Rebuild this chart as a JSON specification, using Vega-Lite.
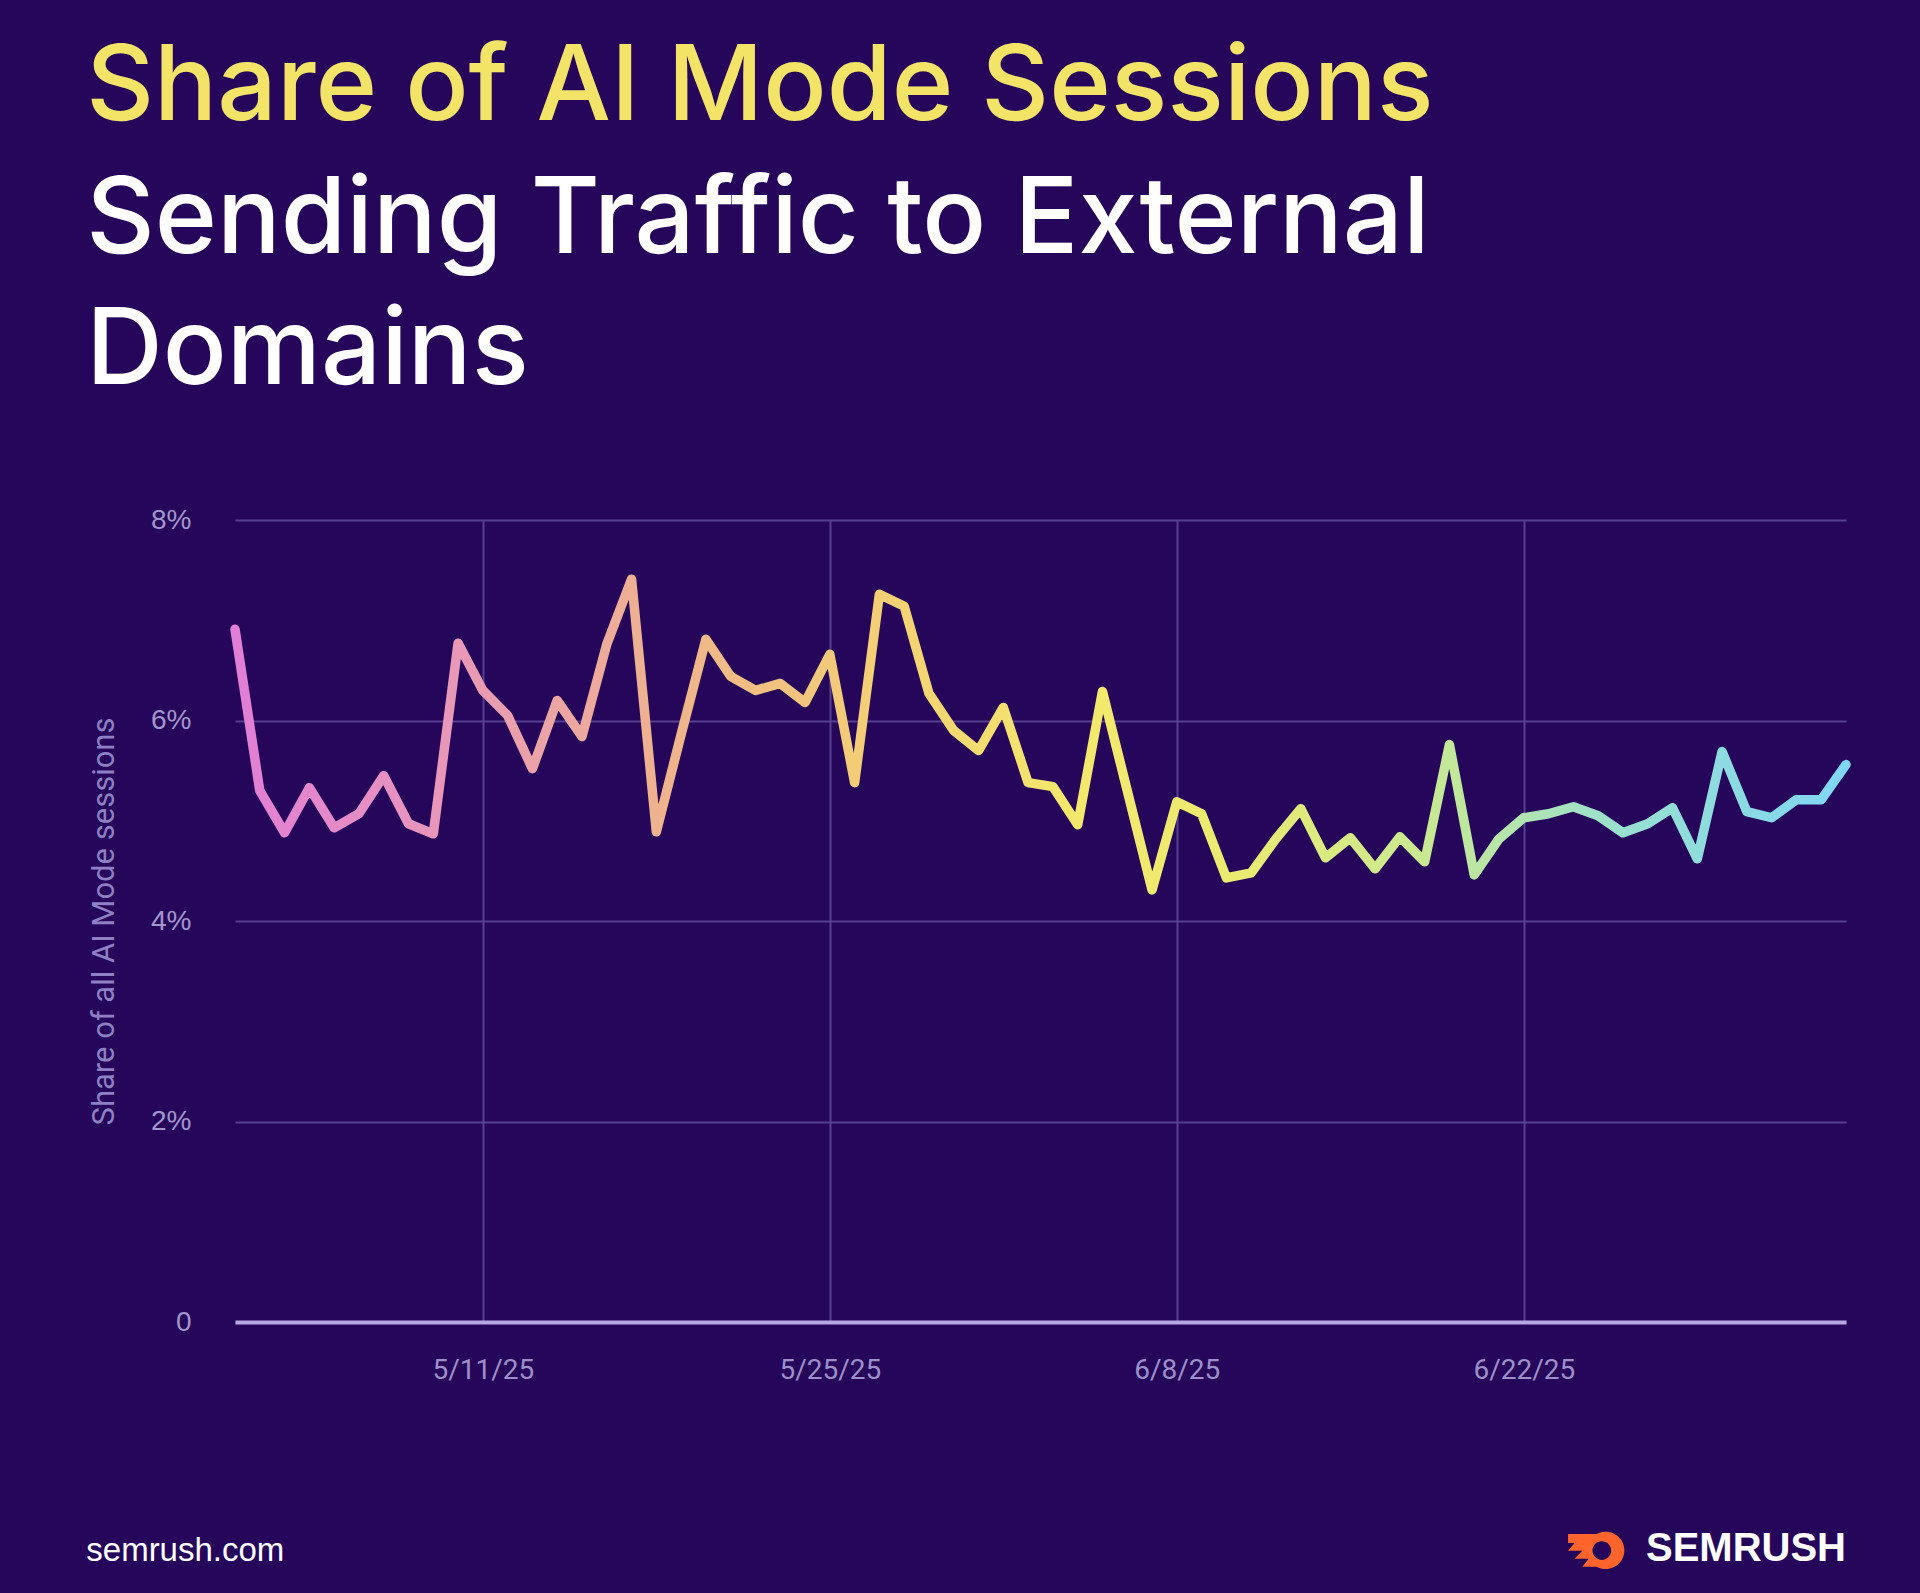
{
  "$schema": "https://vega.github.io/schema/vega-lite/v6.json",
  "width": 1611,
  "height": 802,
  "padding": {"left": 86, "top": 36, "right": 73, "bottom": 25},
  "background": "#25065a",
  "config": {"view": {"stroke": null}},
  "title": {
    "text": "Share of AI Mode Sessions",
    "subtitle": ["Sending Traffic to External", "Domains"],
    "anchor": "start",
    "frame": "bounds",
    "font": "Inter",
    "fontSize": 105,
    "fontWeight": 500,
    "color": "#f3e467",
    "subtitleFont": "Inter",
    "subtitleFontSize": 106,
    "subtitleFontWeight": 500,
    "subtitleColor": "#ffffff",
    "subtitleLineHeight": 131,
    "subtitlePadding": 27,
    "offset": 100
  },
  "datasets": {
    "series": [
      {"date": "2025-05-01T00:00:00", "value": 6.91},
      {"date": "2025-05-02T00:00:00", "value": 5.30},
      {"date": "2025-05-03T00:00:00", "value": 4.88},
      {"date": "2025-05-04T00:00:00", "value": 5.33},
      {"date": "2025-05-05T00:00:00", "value": 4.93},
      {"date": "2025-05-06T00:00:00", "value": 5.07},
      {"date": "2025-05-07T00:00:00", "value": 5.45},
      {"date": "2025-05-08T00:00:00", "value": 4.97},
      {"date": "2025-05-09T00:00:00", "value": 4.87},
      {"date": "2025-05-10T00:00:00", "value": 6.77},
      {"date": "2025-05-11T00:00:00", "value": 6.30},
      {"date": "2025-05-12T00:00:00", "value": 6.05},
      {"date": "2025-05-13T00:00:00", "value": 5.52},
      {"date": "2025-05-14T00:00:00", "value": 6.20},
      {"date": "2025-05-15T00:00:00", "value": 5.84},
      {"date": "2025-05-16T00:00:00", "value": 6.76},
      {"date": "2025-05-17T00:00:00", "value": 7.41},
      {"date": "2025-05-18T00:00:00", "value": 4.89},
      {"date": "2025-05-19T00:00:00", "value": 5.86},
      {"date": "2025-05-20T00:00:00", "value": 6.81},
      {"date": "2025-05-21T00:00:00", "value": 6.44},
      {"date": "2025-05-22T00:00:00", "value": 6.30},
      {"date": "2025-05-23T00:00:00", "value": 6.37},
      {"date": "2025-05-24T00:00:00", "value": 6.18},
      {"date": "2025-05-25T00:00:00", "value": 6.66},
      {"date": "2025-05-26T00:00:00", "value": 5.38},
      {"date": "2025-05-27T00:00:00", "value": 7.26},
      {"date": "2025-05-28T00:00:00", "value": 7.14},
      {"date": "2025-05-29T00:00:00", "value": 6.27},
      {"date": "2025-05-30T00:00:00", "value": 5.90},
      {"date": "2025-05-31T00:00:00", "value": 5.70},
      {"date": "2025-06-01T00:00:00", "value": 6.13},
      {"date": "2025-06-02T00:00:00", "value": 5.38},
      {"date": "2025-06-03T00:00:00", "value": 5.34},
      {"date": "2025-06-04T00:00:00", "value": 4.96},
      {"date": "2025-06-05T00:00:00", "value": 6.29},
      {"date": "2025-06-06T00:00:00", "value": 5.30},
      {"date": "2025-06-07T00:00:00", "value": 4.31},
      {"date": "2025-06-08T00:00:00", "value": 5.19},
      {"date": "2025-06-09T00:00:00", "value": 5.07},
      {"date": "2025-06-10T00:00:00", "value": 4.43},
      {"date": "2025-06-11T00:00:00", "value": 4.48},
      {"date": "2025-06-12T00:00:00", "value": 4.82},
      {"date": "2025-06-13T00:00:00", "value": 5.12},
      {"date": "2025-06-14T00:00:00", "value": 4.63},
      {"date": "2025-06-15T00:00:00", "value": 4.83},
      {"date": "2025-06-16T00:00:00", "value": 4.52},
      {"date": "2025-06-17T00:00:00", "value": 4.84},
      {"date": "2025-06-18T00:00:00", "value": 4.59},
      {"date": "2025-06-19T00:00:00", "value": 5.76},
      {"date": "2025-06-20T00:00:00", "value": 4.46},
      {"date": "2025-06-21T00:00:00", "value": 4.82},
      {"date": "2025-06-22T00:00:00", "value": 5.03},
      {"date": "2025-06-23T00:00:00", "value": 5.07},
      {"date": "2025-06-24T00:00:00", "value": 5.14},
      {"date": "2025-06-25T00:00:00", "value": 5.05},
      {"date": "2025-06-26T00:00:00", "value": 4.88},
      {"date": "2025-06-27T00:00:00", "value": 4.97},
      {"date": "2025-06-28T00:00:00", "value": 5.13},
      {"date": "2025-06-29T00:00:00", "value": 4.62},
      {"date": "2025-06-30T00:00:00", "value": 5.69},
      {"date": "2025-07-01T00:00:00", "value": 5.09},
      {"date": "2025-07-02T00:00:00", "value": 5.03},
      {"date": "2025-07-03T00:00:00", "value": 5.21},
      {"date": "2025-07-04T00:00:00", "value": 5.21},
      {"date": "2025-07-05T00:00:00", "value": 5.56}
    ],
    "footerLeft": [{"label": "semrush.com"}],
    "footerRight": [{"label": "SEMRUSH"}],
    "logo": [{"label": "logo"}]
  },
  "layer": [
    {
      "data": {"name": "series"},
      "mark": {
        "type": "line",
        "strokeWidth": 9.5,
        "strokeCap": "round",
        "strokeJoin": "round",
        "stroke": {
          "gradient": "linear",
          "x1": 0, "y1": 0, "x2": 1, "y2": 0,
          "stops": [
            {"offset": 0, "color": "#e17ed6"},
            {"offset": 0.15, "color": "#e99bb4"},
            {"offset": 0.27, "color": "#efb48c"},
            {"offset": 0.4, "color": "#f3d074"},
            {"offset": 0.52, "color": "#f4e86c"},
            {"offset": 0.62, "color": "#ebeb70"},
            {"offset": 0.74, "color": "#c8e992"},
            {"offset": 0.86, "color": "#98e0d0"},
            {"offset": 1, "color": "#80d6f4"}
          ]
        }
      },
      "encoding": {
        "x": {
          "field": "date",
          "type": "temporal",
          "title": null,
          "scale": {
            "domain": [{"year": 2025, "month": 5, "date": 1}, {"year": 2025, "month": 7, "date": 5}],
            "nice": false
          },
          "axis": {
            "values": [
              {"year": 2025, "month": 5, "date": 11},
              {"year": 2025, "month": 5, "date": 25},
              {"year": 2025, "month": 6, "date": 8},
              {"year": 2025, "month": 6, "date": 22}
            ],
            "format": "%-m/%-d/%y",
            "grid": true,
            "gridColor": "#563f92",
            "gridWidth": 2,
            "domain": true,
            "domainColor": "#b8a8e0",
            "domainWidth": 4,
            "ticks": false,
            "labelPadding": 34,
            "labelFont": "Roboto",
            "labelFontSize": 28,
            "labelColor": "#9d90c8"
          }
        },
        "y": {
          "field": "value",
          "type": "quantitative",
          "title": "Share of all AI Mode sessions",
          "scale": {"domain": [0, 8], "nice": false},
          "axis": {
            "values": [0, 2, 4, 6, 8],
            "labelExpr": "datum.value == 0 ? '0' : datum.value + '%'",
            "grid": true,
            "gridColor": "#563f92",
            "gridWidth": 2,
            "domain": false,
            "ticks": false,
            "labelPadding": 44,
            "labelFont": "Liberation Sans",
            "labelFontSize": 28,
            "labelColor": "#a396cc",
            "titleFont": "Roboto",
            "titleFontSize": 31,
            "titleFontWeight": "normal",
            "titleColor": "#8e80c2",
            "titlePadding": 30
          }
        }
      }
    },
    {
      "data": {"name": "footerLeft"},
      "mark": {"type": "text", "align": "left", "baseline": "alphabetic", "font": "Liberation Sans", "fontSize": 33, "color": "#ffffff"},
      "encoding": {
        "x": {"datum": {"year": 2025, "month": 4, "date": 25}, "type": "temporal"},
        "y": {"datum": -2.38, "type": "quantitative"},
        "text": {"field": "label"}
      }
    },
    {
      "data": {"name": "footerRight"},
      "mark": {"type": "text", "align": "right", "baseline": "alphabetic", "font": "Liberation Sans", "fontWeight": "bold", "fontSize": 40, "color": "#ffffff"},
      "encoding": {
        "x": {"datum": {"year": 2025, "month": 7, "date": 5}, "type": "temporal"},
        "y": {"datum": -2.38, "type": "quantitative"},
        "text": {"field": "label"}
      }
    },
    {
      "data": {"name": "logo"},
      "mark": {
        "type": "point",
        "filled": true,
        "color": "#ff642d",
        "opacity": 1,
        "size": 2700,
        "shape": "M -1 -0.6 L 0.1 -0.6 A 0.72 0.72 0 1 1 0.1 0.66 L -0.45 0.66 L -0.2 0.35 L -0.75 0.35 L -0.45 0.05 L -1 0.05 L -0.75 -0.25 L -1 -0.25 Z M 0.3 -0.32 A 0.36 0.36 0 1 0 0.3 0.4 A 0.36 0.36 0 1 0 0.3 -0.32 Z"
      },
      "encoding": {
        "x": {"datum": {"year": 2025, "month": 6, "date": 24, "hours": 20}, "type": "temporal"},
        "y": {"datum": -2.27, "type": "quantitative"}
      }
    }
  ]
}
